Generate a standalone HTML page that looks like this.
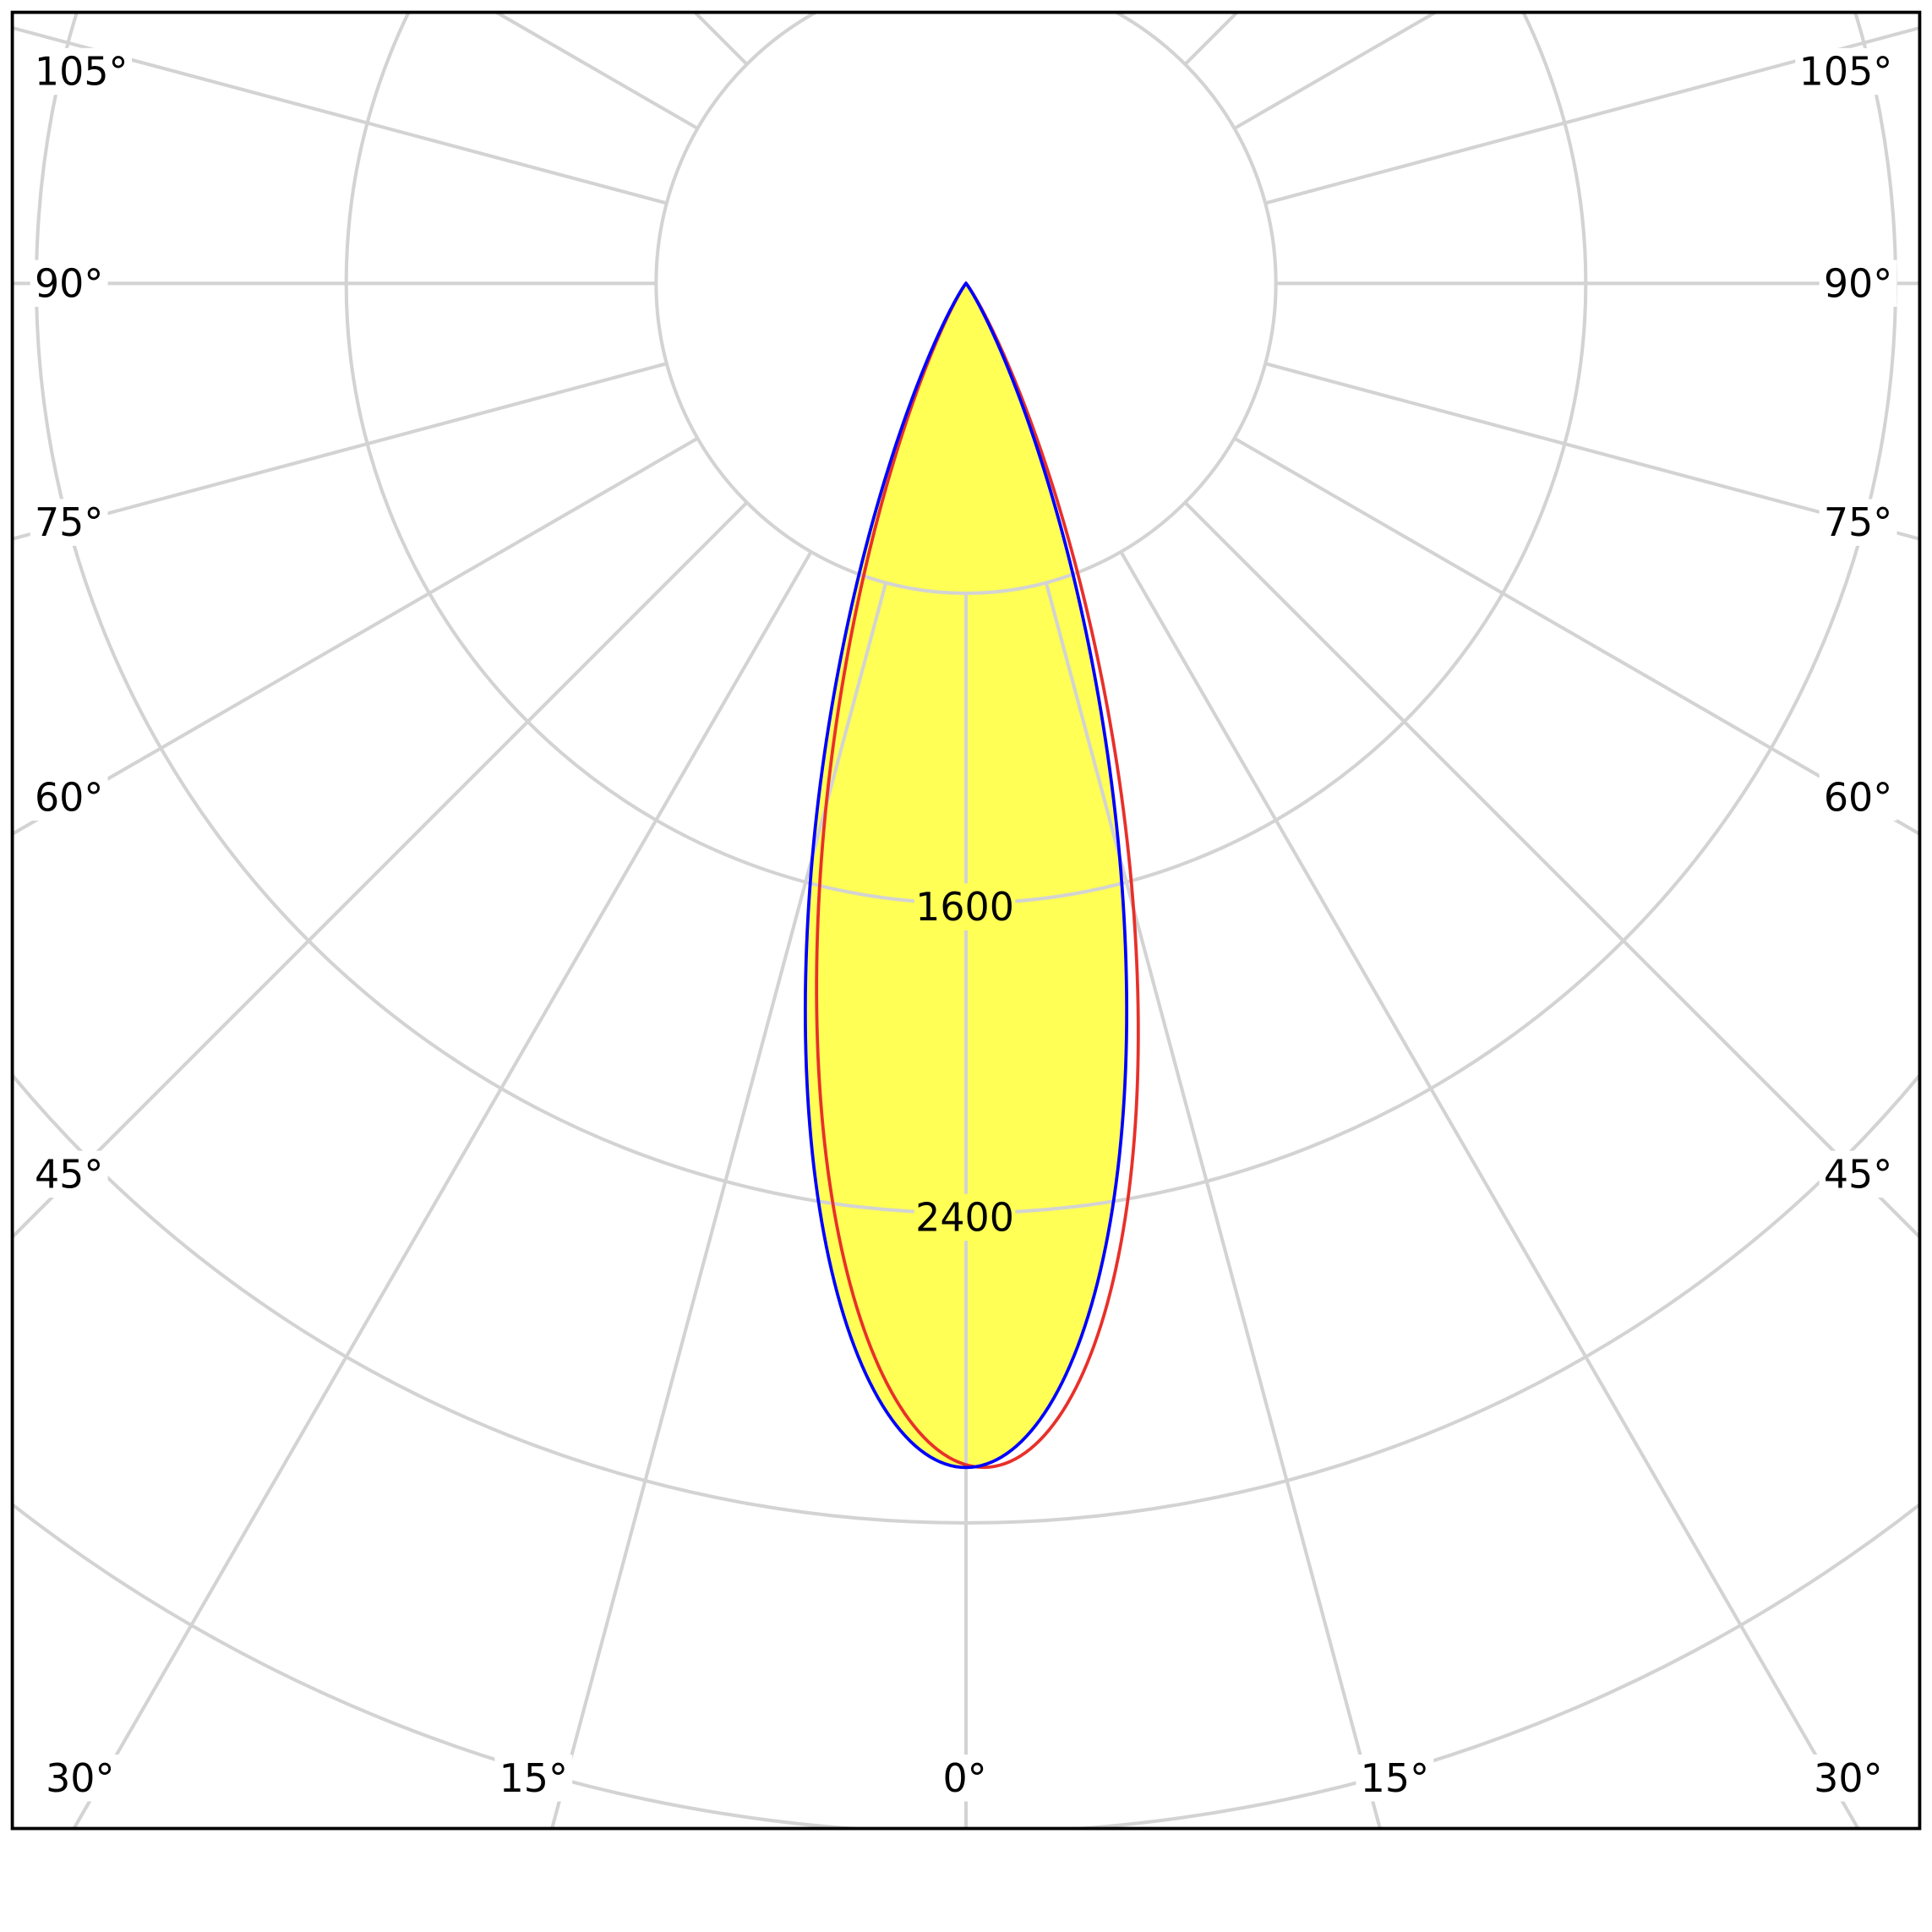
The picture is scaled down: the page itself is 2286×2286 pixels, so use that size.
<!DOCTYPE html>
<html><head><meta charset="utf-8"><style>
html,body{margin:0;padding:0;background:#fff;overflow:hidden;width:2286px;height:2286px;}
#w{width:2286px;height:2286px;overflow:hidden;position:absolute;left:0;top:0;}
svg{display:block;overflow:hidden;}
text{font-family:"DejaVu Sans","Liberation Sans",sans-serif;font-size:31.5px;fill:#000;}
</style></head><body>
<div id="w">
<svg id="s" width="2286" height="2286" viewBox="0 0 1568 1568" xmlns="http://www.w3.org/2000/svg">
<defs><clipPath id="c"><rect x="10" y="10" width="1548" height="1474"/></clipPath></defs>
<rect width="1568" height="1568" fill="#fff"/>
<g clip-path="url(#c)">
<path id="fill" fill="#ffff55" stroke="none"/>
<g id="grid" fill="none" stroke="#d3d3d3" stroke-width="2.8"></g>
<g id="lbl"></g>
<path id="red" fill="none" stroke="#e8302a" stroke-width="2.6" transform="rotate(-0.9 784 230)"/>
<path id="blue" fill="none" stroke="#0000ff" stroke-width="2.6"/>
</g>
<rect x="10" y="10" width="1548" height="1474" fill="none" stroke="#000" stroke-width="2.6"/>
</svg>
</div>
<script>
var cx=784,cy=230,NS="http://www.w3.org/2000/svg";
var g=document.getElementById('grid');
function el(p,t,a){var e=document.createElementNS(NS,t);for(var k in a)e.setAttribute(k,a[k]);p.appendChild(e);return e;}
for(var i=1;i<=7;i++)el(g,'circle',{cx:cx,cy:cy,r:251.5*i});
for(var a=0;a<360;a+=15){var t=a*Math.PI/180;
el(g,'line',{x1:cx+252*Math.sin(t),y1:cy+252*Math.cos(t),x2:cx+2000*Math.sin(t),y2:cy+2000*Math.cos(t)});}
function rr(d){var v=0.0028*d*d+1.2e-6*d*d*d*d;return 961*Math.exp(-v);}
var pts=[];for(var d=-90;d<=90;d+=0.25){var t=d*Math.PI/180,r=rr(d);pts.push((cx+r*Math.sin(t)).toFixed(2)+','+(cy+r*Math.cos(t)).toFixed(2));}
var dstr='M'+pts.join(' L')+' Z';
['fill','red','blue'].forEach(function(id){document.getElementById(id).setAttribute('d',dstr);});
var L=document.getElementById('lbl');
function lab(x,y,s,bg){var w=s.length*19+6;el(L,'rect',{x:x-w/2,y:y-19,width:w,height:38,fill:bg||'#fff'});var t=el(L,'text',{x:x,y:y+11,'text-anchor':'middle'});t.textContent=s;}
lab(66,58,'105°');lab(56,230,'90°');lab(56,424,'75°');lab(56,647,'60°');lab(56,953,'45°');
lab(65,1443,'30°');lab(433,1443,'15°');lab(783,1443,'0°');lab(1132,1443,'15°');lab(1500,1443,'30°');
lab(1498,58,'105°');lab(1508,230,'90°');lab(1508,424,'75°');lab(1508,647,'60°');lab(1508,953,'45°');
lab(783,736,'1600','#ffff55');lab(783,988,'2400','#ffff55');
</script>
</body></html>
